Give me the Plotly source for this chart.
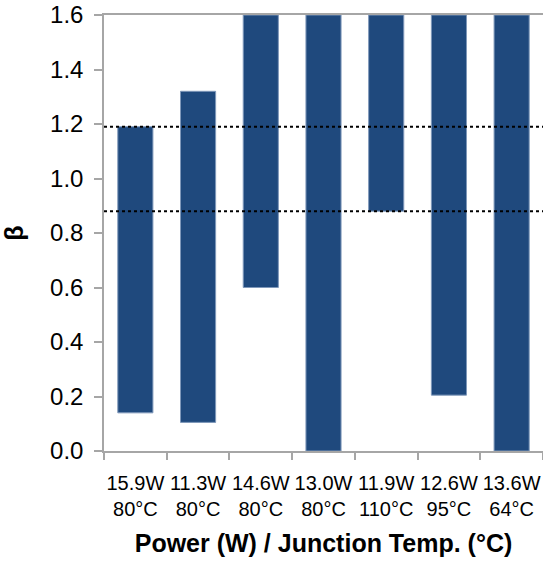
import plotly.graph_objects as go

# Operating points: power / junction temperature
categories = ["15.9W<br>80°C", "11.3W<br>80°C", "14.6W<br>80°C", "13.0W<br>80°C",
              "11.9W<br>110°C", "12.6W<br>95°C", "13.6W<br>64°C"]
beta_low = [0.14, 0.105, 0.60, 0.0, 0.88, 0.205, 0.0]
beta_high = [1.19, 1.32, 1.6, 1.6, 1.6, 1.6, 1.6]
reference_levels = [1.19, 0.88]

bar_color = "#1F497D"
axis_color = "#A6A6A6"

fig = go.Figure()
fig.add_trace(go.Bar(
    x=categories,
    base=beta_low,
    y=[h - l for h, l in zip(beta_high, beta_low)],
    marker=dict(color=bar_color, line=dict(color="#7F98BA", width=1)),
    hoverinfo="skip",
))

for lvl in reference_levels:
    fig.add_shape(type="line", xref="paper", x0=0, x1=1, yref="y", y0=lvl, y1=lvl,
                  line=dict(color="black", width=2, dash="dot"), layer="above")

fig.update_layout(
    width=543, height=562,
    margin=dict(l=104, r=0, t=15, b=111),
    paper_bgcolor="white", plot_bgcolor="white",
    bargap=0.44,
    showlegend=False,
    font=dict(family="Liberation Sans, Arial, sans-serif", color="black"),
    xaxis=dict(
        showline=True, linecolor=axis_color, linewidth=1.5, mirror=True,
        ticks="outside", ticklen=7, tickcolor=axis_color, tickwidth=1.5,
        tickmode="array", tickvals=categories,
        tickson="boundaries",
        tickangle=0,
        tickfont=dict(size=20),
        ticklabelstandoff=13,
        title=dict(text="<b>Power (W) / Junction Temp. (°C)</b>", font=dict(size=25), standoff=16),
        showgrid=False,
    ),
    yaxis=dict(
        range=[0, 1.6],
        tickvals=[0, 0.2, 0.4, 0.6, 0.8, 1.0, 1.2, 1.4, 1.6],
        tickformat=".1f",
        showline=True, linecolor=axis_color, linewidth=1.5,
        ticks="outside", ticklen=8, tickcolor=axis_color, tickwidth=1.5,
        tickfont=dict(size=24),
        ticklabelstandoff=6,
        title=dict(text="<b>β</b>", font=dict(size=25), standoff=28),
        showgrid=False, zeroline=False,
    ),
)

fig.write_html("out.html")
